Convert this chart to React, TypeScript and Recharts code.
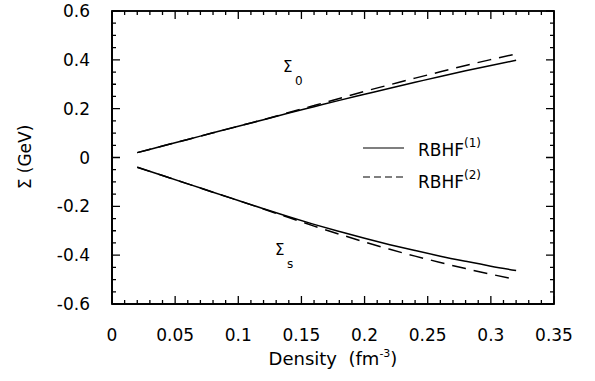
import { LineChart, Line, XAxis, YAxis, Legend, ReferenceArea } from "recharts"

const density = [0.02, 0.04, 0.06, 0.08, 0.1, 0.12, 0.14, 0.16, 0.18, 0.2, 0.22, 0.24, 0.26, 0.28, 0.3, 0.32]
const sigma0Rbhf1 = [0.02, 0.047, 0.074, 0.101, 0.128, 0.155, 0.182, 0.208, 0.234, 0.259, 0.284, 0.308, 0.332, 0.355, 0.377, 0.398]
const sigma0Rbhf2 = [0.02, 0.047, 0.074, 0.101, 0.128, 0.155, 0.184, 0.213, 0.242, 0.271, 0.298, 0.325, 0.351, 0.377, 0.401, 0.424]
const sigmaSRbhf1 = [-0.04, -0.074, -0.108, -0.142, -0.176, -0.21, -0.243, -0.274, -0.303, -0.331, -0.357, -0.381, -0.404, -0.425, -0.445, -0.463]
const sigmaSRbhf2 = [-0.04, -0.074, -0.108, -0.142, -0.176, -0.211, -0.246, -0.281, -0.314, -0.346, -0.376, -0.404, -0.43, -0.455, -0.478, -0.5]

// every 0.01 on x, every 0.05 on y; majors get a label
const xTicks = Array.from({ length: 36 }, (_, i) => +(i * 0.01).toFixed(2))
const yTicks = Array.from({ length: 25 }, (_, i) => +(-0.6 + i * 0.05).toFixed(2))

const X0 = 0
const X1 = 0.35
const Y0 = -0.6
const Y1 = 0.6

const rows = density.map((d, i) => ({
  d,
  s0a: sigma0Rbhf1[i],
  s0b: sigma0Rbhf2[i],
  ssa: sigmaSRbhf1[i],
  ssb: sigmaSRbhf2[i],
}))

const W = 595
const H = 381
// plot box in page pixels
const PL = 112
const PT = 11
const PW = 442
const PH = 293
const Y_AXIS_W = 60
const X_AXIS_H = 60

const FONT = "DejaVu Sans"
const dashed = "14 8"

const xMajor = (v: number) => Math.round(v * 100) % 5 === 0
const yMajor = (v: number) => Math.round(v * 100) % 20 === 0

function BottomTick(props: any) {
  const { x, y, payload } = props
  return (
    <text x={x} y={y + 37} textAnchor="middle" fontSize={17} fontFamily={FONT} fill="#000">
      {xMajor(payload.value) ? String(payload.value) : ""}
    </text>
  )
}

function LeftTick(props: any) {
  const { x, y, payload } = props
  return (
    <text x={x - 22} y={y + 6} textAnchor="end" fontSize={17} fontFamily={FONT} fill="#000">
      {yMajor(payload.value) ? String(payload.value) : ""}
    </text>
  )
}

// frame with inward ticks on all four sides, same ticks as the axes
function Frame() {
  const px = (v: number) => PL + ((v - X0) / (X1 - X0)) * PW
  const py = (v: number) => PT + ((Y1 - v) / (Y1 - Y0)) * PH
  const parts: string[] = []
  xTicks.forEach((v) => {
    const len = xMajor(v) ? 8 : 4
    parts.push(`M${px(v)},${PT + PH}v${-len}`, `M${px(v)},${PT}v${len}`)
  })
  yTicks.forEach((v) => {
    const len = yMajor(v) ? 8 : 4
    parts.push(`M${PL},${py(v)}h${len}`, `M${PL + PW},${py(v)}h${-len}`)
  })
  return (
    <svg width={W} height={H} style={{ position: "absolute", left: 0, top: 0, pointerEvents: "none" }}>
      <rect x={PL} y={PT} width={PW} height={PH} fill="none" stroke="#000" strokeWidth={1.5} />
      <path d={parts.join("")} stroke="#000" strokeWidth={1.3} fill="none" />
    </svg>
  )
}

const txt = (left: number, top: number, size: number): React.CSSProperties => ({
  position: "absolute",
  left,
  top,
  fontSize: size,
  lineHeight: 1,
  fontFamily: FONT,
  color: "#000",
  whiteSpace: "nowrap",
})

function LegendBox() {
  return (
    <div style={{ position: "relative", width: 200, height: 62 }}>
      <svg width={55} height={62} style={{ position: "absolute", left: 0, top: 0 }}>
        <line x1={8} x2={49} y1={18} y2={18} stroke="#000" strokeWidth={1.2} />
        <line x1={8} x2={49} y1={47} y2={47} stroke="#000" strokeWidth={1.2} strokeDasharray="7 4" />
      </svg>
      <div style={txt(63, 12, 17)}>
        RBHF<span style={{ fontSize: 12, position: "relative", top: -9 }}>(1)</span>
      </div>
      <div style={txt(63, 44, 17)}>
        RBHF<span style={{ fontSize: 12, position: "relative", top: -9 }}>(2)</span>
      </div>
    </div>
  )
}

const axisLine = { stroke: "#000", strokeWidth: 1.5 }

export default function App() {
  return (
    <div style={{ position: "absolute", left: 0, top: 0, width: W, height: H, background: "#fff" }}>
      <LineChart
        width={W}
        height={H}
        data={rows}
        margin={{ top: PT, right: W - PL - PW, bottom: H - PT - PH - X_AXIS_H, left: PL - Y_AXIS_W }}
      >
        <XAxis
          dataKey="d"
          type="number"
          domain={[X0, X1]}
          ticks={xTicks}
          interval={0}
          height={X_AXIS_H}
          tickSize={0}
          tickMargin={0}
          tickLine={false}
          axisLine={axisLine}
          tick={BottomTick}
        />
        <YAxis
          type="number"
          domain={[Y0, Y1]}
          ticks={yTicks}
          interval={0}
          width={Y_AXIS_W}
          tickSize={0}
          tickMargin={0}
          tickLine={false}
          axisLine={axisLine}
          tick={LeftTick}
        />
        <ReferenceArea x1={X0} x2={X1} y1={Y0} y2={Y1} fill="none" fillOpacity={0} stroke="#000" strokeWidth={1.5} />
        <Line dataKey="s0a" type="monotone" stroke="#000" strokeWidth={1.5} dot={false} isAnimationActive={false} />
        <Line dataKey="s0b" type="monotone" stroke="#000" strokeWidth={1.5} strokeDasharray={dashed} dot={false} isAnimationActive={false} />
        <Line dataKey="ssa" type="monotone" stroke="#000" strokeWidth={1.5} dot={false} isAnimationActive={false} />
        <Line dataKey="ssb" type="monotone" stroke="#000" strokeWidth={1.5} strokeDasharray={dashed} dot={false} isAnimationActive={false} />
        <Legend
          layout="vertical"
          align="center"
          verticalAlign="middle"
          content={() => <LegendBox />}
          wrapperStyle={{ left: 355, top: 130, width: 200, height: 62 }}
        />
      </LineChart>
      <Frame />
      <div style={txt(283, 60, 15)}>Σ</div>
      <div style={txt(295, 75, 12)}>0</div>
      <div style={txt(275, 243, 15)}>Σ</div>
      <div style={txt(287, 258, 12)}>s</div>
      <div style={{ ...txt(183, 350, 18), width: 300, textAlign: "center" }}>
        Density{"\u00a0\u00a0"}(fm<span style={{ fontSize: 11, position: "relative", top: -8 }}>-3</span>)
      </div>
      <div
        style={{
          ...txt(25, 157, 17),
          transform: "translate(-50%, -50%) rotate(-90deg)",
        }}
      >
        Σ (GeV)
      </div>
    </div>
  )
}
